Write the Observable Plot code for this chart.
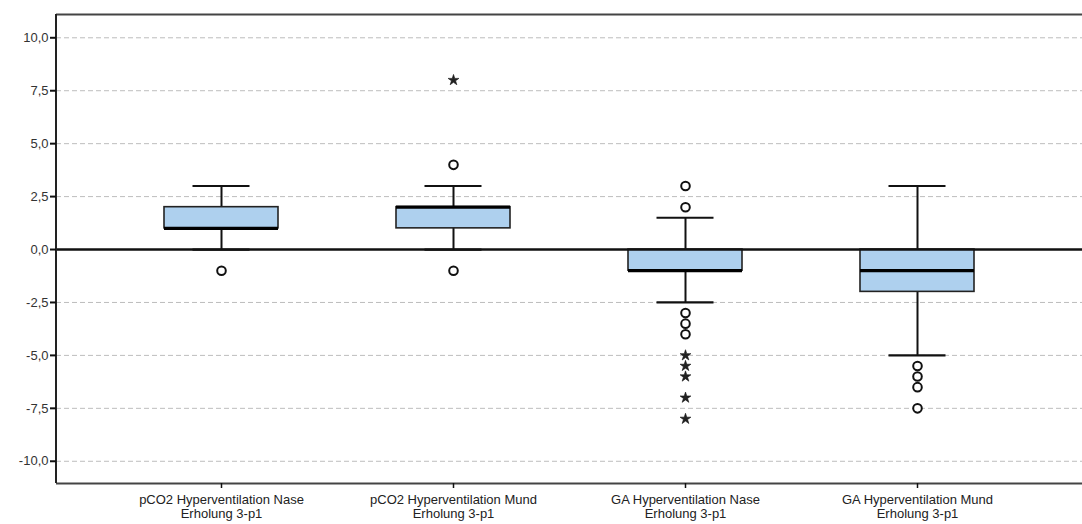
<!DOCTYPE html>
<html>
<head>
<meta charset="utf-8">
<script src="https://cdn.jsdelivr.net/npm/d3@7"></script>
<script src="https://cdn.jsdelivr.net/npm/@observablehq/plot@0.6"></script>
<style>
  html, body { margin: 0; padding: 0; background: #fff; overflow: hidden; }
  #chart svg { display: block; }
</style>
</head>
<body>
<div id="chart"></div>
<script>
const categories = [
  "pCO2 Hyperventilation Nase\nErholung 3-p1",
  "pCO2 Hyperventilation Mund\nErholung 3-p1",
  "GA Hyperventilation Nase\nErholung 3-p1",
  "GA Hyperventilation Mund\nErholung 3-p1"
];
const q1 = [1, 1, -1, -2];
const medians = [1, 2, -1, -1];
const q3 = [2, 2, 0, 0];
const whiskerLow = [0, 0, -2.5, -5];
const whiskerHigh = [3, 3, 1.5, 3];
// outliers (circles) and extremes (stars): [category index, value]
const outliers = [[0, -1], [1, 4], [1, -1], [2, 3], [2, 2], [2, -3], [2, -3.5], [2, -4], [3, -5.5], [3, -6], [3, -6.5], [3, -7.5]];
const extremes = [[1, 8], [2, -5], [2, -5.5], [2, -6], [2, -7], [2, -8]];
const yTicks = [-10, -7.5, -5, -2.5, 0, 2.5, 5, 7.5, 10];
const yDomain = [-11.05, 11.1];

const boxes = categories.map((c, i) => ({cat: c, q1: q1[i], med: medians[i], q3: q3[i], lo: whiskerLow[i], hi: whiskerHigh[i]}));
const outData = outliers.map(([i, v]) => ({cat: categories[i], v}));
const extData = extremes.map(([i, v]) => ({cat: categories[i], v}));
const fmt = d => d.toFixed(1).replace(".", ",");

const W = 1082, ML = 56;
const plotW = W - ML;

const chart = Plot.plot({
  width: W,
  height: 524,
  marginLeft: ML,
  marginRight: 0,
  marginTop: 14,
  marginBottom: 41,
  style: {fontFamily: "'Liberation Sans', Arial, sans-serif", fontSize: "13px", background: "#fff", color: "#222"},
  x: {type: "band", domain: categories, paddingInner: 0.508, paddingOuter: 0.465, label: null},
  y: {domain: yDomain, label: null},
  marks: [
    Plot.ruleY(yTicks.filter(d => d !== 0), {stroke: "#bdbdbd", strokeWidth: 1, strokeDasharray: "5,3"}),
    Plot.ruleX(boxes, {x: "cat", y1: "lo", y2: "hi", stroke: "#111", strokeWidth: 2}),
    Plot.tickY(boxes, {x: "cat", y: "lo", stroke: "#111", strokeWidth: 2.2, insetLeft: 28.5, insetRight: 28.5}),
    Plot.tickY(boxes, {x: "cat", y: "hi", stroke: "#111", strokeWidth: 2.2, insetLeft: 28.5, insetRight: 28.5}),
    Plot.barY(boxes, {x: "cat", y1: "q1", y2: "q3", fill: "#aed0ee", stroke: "#222", strokeWidth: 1.6}),
    Plot.ruleY([0], {stroke: "#111", strokeWidth: 2.6}),
    Plot.tickY(boxes, {x: "cat", y: "med", stroke: "#000", strokeWidth: 3.2}),
    Plot.dot(outData, {x: "cat", y: "v", r: 4.3, fill: "#fff", stroke: "#111", strokeWidth: 2}),
    Plot.dot(extData, {x: "cat", y: "v", symbol: "star", r: 3.4, fill: "#222", stroke: "#111", strokeWidth: 0.6}),
    Plot.ruleY([yDomain[1]], {stroke: "#444", strokeWidth: 2}),
    Plot.ruleY([yDomain[0]], {stroke: "#444", strokeWidth: 2}),
    Plot.rect([yDomain], {y1: d => d[0], y2: d => d[1], fill: "#222", insetLeft: -1, insetRight: plotW - 1}),
    Plot.axisY({ticks: yTicks, tickFormat: fmt, tickSize: 6, tickPadding: 2, stroke: "#111", strokeWidth: 2, fill: "#333", label: null}),
    Plot.axisX({tickSize: 5, tickPadding: 5, stroke: "#111", strokeWidth: 1.5, fill: "#222", label: null, lineHeight: 1.1})
  ]
});
document.getElementById("chart").appendChild(chart);
</script>
</body>
</html>
